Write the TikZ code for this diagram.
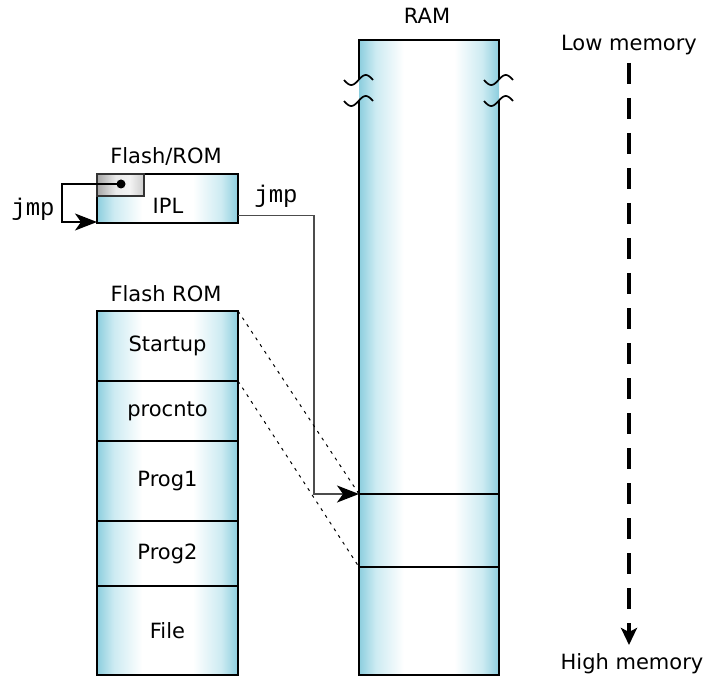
\documentclass[tikz,border=0pt]{standalone}
\usepackage{fontspec}
\setmainfont{DejaVu Sans}
\newfontfamily\jmpfont{Liberation Mono}
\usetikzlibrary{arrows.meta,calc}
\definecolor{edgecyan}{RGB}{140,206,222}
\definecolor{midcyan}{RGB}{205,235,242}
\pgfdeclarehorizontalshading{memshade}{100bp}{color(0bp)=(edgecyan); color(25bp)=(edgecyan); color(31bp)=(midcyan); color(41bp)=(white); color(59bp)=(white); color(69bp)=(midcyan); color(75bp)=(edgecyan); color(100bp)=(edgecyan)}
\pgfdeclarehorizontalshading{grayshade}{100bp}{color(0bp)=(black!35); color(25bp)=(black!35); color(45bp)=(black!8); color(60bp)=(black!5); color(75bp)=(black!20); color(100bp)=(black!20)}
\tikzset{
  shadebox/.style={shading=memshade, minimum width=141pt, inner sep=0pt, outer sep=0pt, anchor=north west, font=\fontsize{21}{24}\selectfont},
  cellbox/.style={shadebox, draw=black, line width=1.7pt},
  lbl/.style={font=\fontsize{21}{24}\selectfont, inner sep=0pt},
  jmplbl/.style={font=\jmpfont\fontsize{24}{26}\selectfont, inner sep=0pt},
  conn/.style={draw=black!70, line width=1.5pt},
  tip/.style={-{Stealth[length=22pt,width=17pt,inset=6pt,black]}},
  guide/.style={draw=black, line width=1pt, dash pattern=on 3pt off 5pt},
  brk/.style={draw=black, line width=1.7pt},
}
\begin{document}
\begin{tikzpicture}[x=1pt,y=-1pt]
\useasboundingbox (0,0) rectangle (709,676);
% RAM
\node[lbl] (ramlabel) at (427,16) {RAM};
\node[shadebox, minimum width=140pt, minimum height=454pt] (ramA) at (359,40) {};
\node[cellbox, minimum width=140pt, minimum height=73pt] (ramB) at (359,494) {};
\node[cellbox, minimum width=140pt, minimum height=108pt] (ramC) at (359,567) {};
\draw[line width=1.7pt] (ramA.west |- 0,80) -- (ramA.north west) -- (ramA.north east) -- (ramA.east |- 0,80);
\draw[line width=1.7pt] (ramA.west |- 0,101) -- (ramA.south west);
\draw[line width=1.7pt] (ramA.east |- 0,101) -- (ramA.south east);
% break marks
\foreach \yy in {80,101}{
  \draw[brk] plot[domain=0:29, samples=40, smooth] ({344+\x},{\yy+5*sin(\x/29*360)});
  \draw[brk] plot[domain=0:29, samples=40, smooth] ({484+\x},{\yy+5*sin(\x/29*360)});
}
% IPL
\node[lbl] (ipllabel) at (166,156) {Flash/ROM};
\node[cellbox, minimum height=49pt] (ipl) at (97,174) {};
\node[draw=black!80, line width=1.5pt, shading=grayshade, minimum width=47pt, minimum height=22pt, anchor=north west, inner sep=0pt, outer sep=0pt] (gray) at (97,174) {};
\node[lbl] (ipltext) at (168,206) {IPL};
\node[circle, fill=black, inner sep=0pt, minimum size=9pt] (dot) at (121,184) {};
\coordinate (loopcorner) at (62,184);
\draw[conn, draw=black, line width=1.3pt, tip] (dot.center) -- (loopcorner) |- ([yshift=1pt]ipl.south west);
\node[jmplbl] (jmpL) at (33,209) {jmp};
\node[jmplbl] (jmpR) at (276,196) {jmp};
\coordinate (bend) at (314,494);
\draw[conn, tip] ([yshift=-17pt]ipl.east) -| (bend) -- (ramB.north west);
% Flash ROM stack
\node[lbl] (flashlabel) at (166,294) {Flash ROM};
\node[cellbox, minimum height=70pt] (startup) at (97,311) {Startup};
\node[cellbox, minimum height=60pt] (procnto) at (97,381) {procnto};
\node[cellbox, minimum height=80pt] (prog1) at (97,441) {Prog1};
\node[cellbox, minimum height=65pt] (prog2) at (97,521) {Prog2};
\node[cellbox, minimum height=89pt] (file) at (97,586) {File};
\draw[guide] (startup.north east) -- (ramB.north west);
\draw[guide] (startup.south east) -- (ramC.north west);
% memory direction
\node[lbl] (low) at (629,45) {Low memory};
\node[lbl] (high) at (632,664) {High memory};
\draw[line width=4.5pt, dash pattern=on 21pt off 14pt, -{Stealth[length=17pt,width=16pt,inset=4pt]}] (low.south |- 0,63) -- (low.south |- 0,645);
\end{tikzpicture}
\end{document}
